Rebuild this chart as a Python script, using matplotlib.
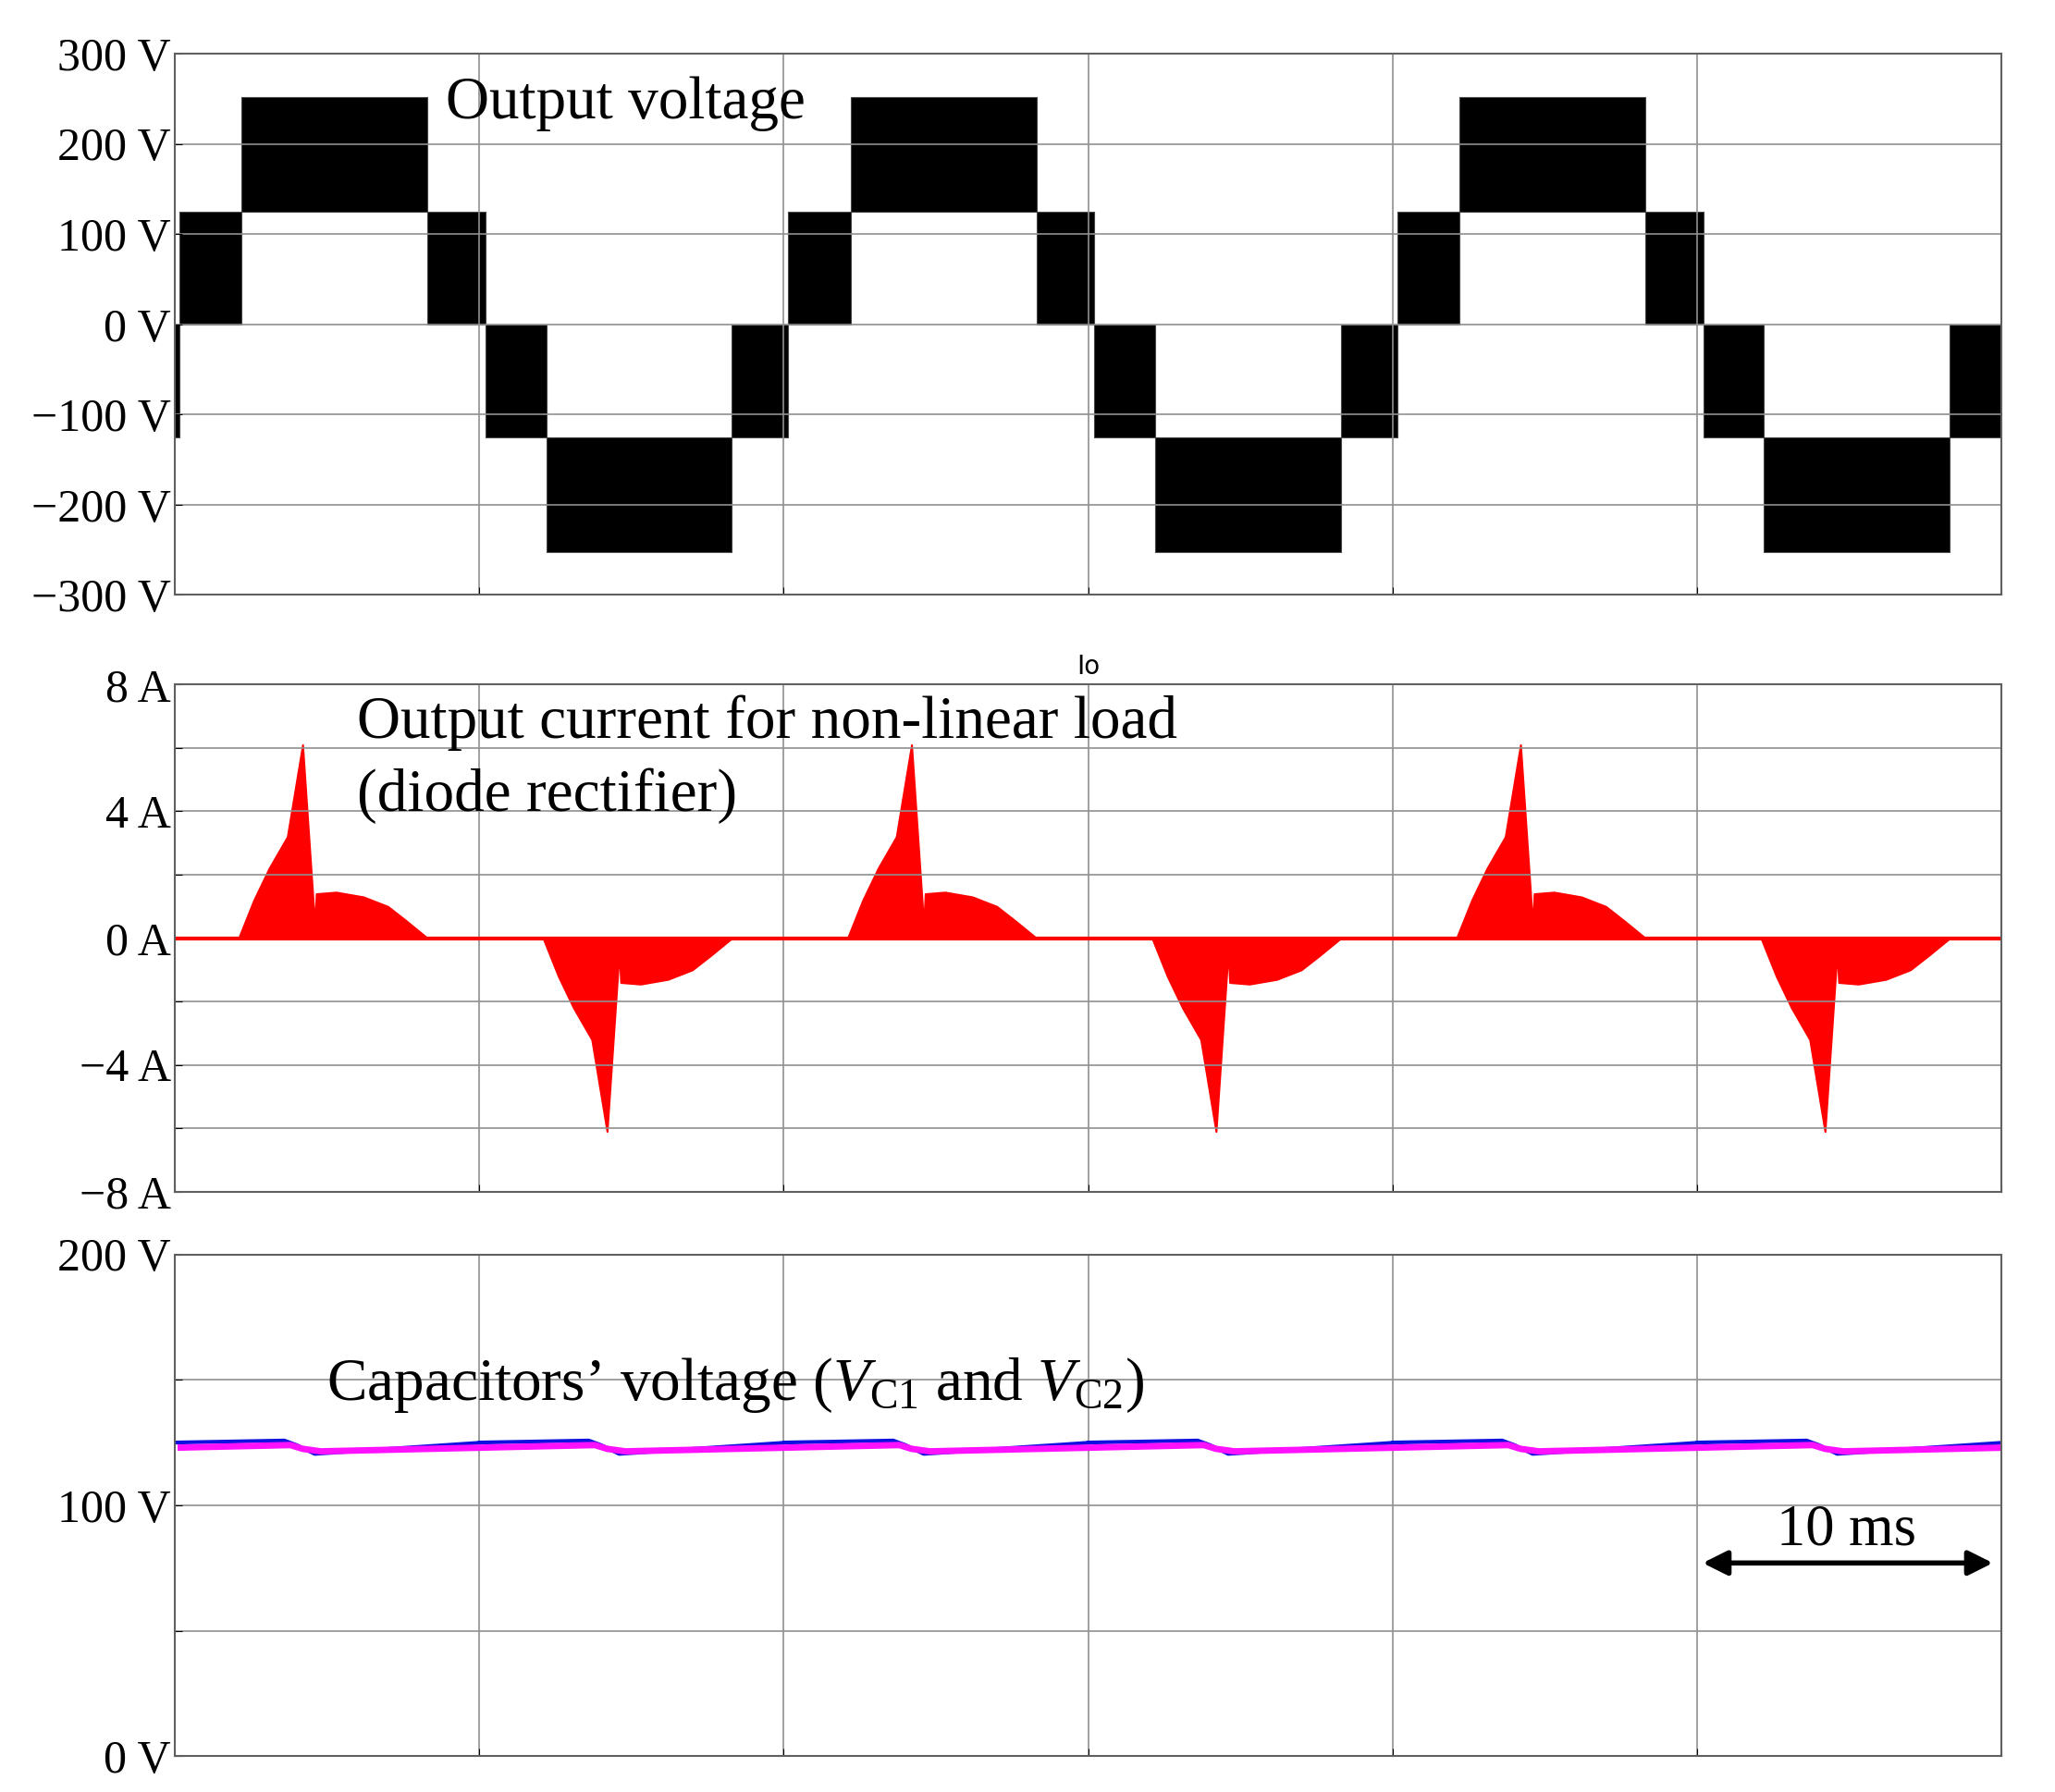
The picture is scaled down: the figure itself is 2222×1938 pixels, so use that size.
import numpy as np
import matplotlib
matplotlib.use("Agg")
import matplotlib.pyplot as plt

plt.rcParams['font.family'] = ['Liberation Serif', 'DejaVu Serif']
plt.rcParams['mathtext.fontset'] = 'custom'
plt.rcParams['mathtext.rm'] = 'Liberation Serif'
plt.rcParams['mathtext.it'] = 'Liberation Serif:italic'

# ---- data ----
period_ms = 20.0
n_periods = 3
v_offset = 0.15
# one period of the 5-level output voltage: segment edges (ms) and band low/high (V)
v_edges = [0.0, 2.05, 8.15, 10.05, 12.05, 18.15, 20.0]
v_low = [0, 125, 0, -125, -252, -125]
v_high = [125, 252, 125, 0, -125, 0]

# positive current pulse envelope in one half period (ms, A)
i_t = [0.0, 2.1, 2.6, 3.1, 3.7, 4.2, 4.6, 4.65, 5.3, 6.2, 7.0, 7.6, 8.3, 10.0]
i_env = [0, 0, 1.2, 2.2, 3.2, 6.1, 0.4, 1.4, 1.45, 1.3, 1.0, 0.55, 0, 0]

# capacitor voltages over one 10 ms ripple cycle (ms, V)
c_t = [0.0, 3.6, 4.0, 4.6, 10.0]
vc1 = [125.0, 125.8, 124.0, 120.5, 124.9]
vc2 = [123.0, 124.0, 122.5, 121.5, 123.0]

fig = plt.figure(figsize=(22.22, 19.38), dpi=100)
L, R = 0.085, 0.974
ax1 = fig.add_axes([L, 0.668, R - L, 0.302])
ax2 = fig.add_axes([L, 0.335, R - L, 0.283])
ax3 = fig.add_axes([L, 0.02, R - L, 0.28])

T = n_periods * period_ms
for ax in (ax1, ax2, ax3):
    ax.set_xlim(0, T)
    ax.set_xticks(np.arange(0, T + 0.1, 10))
    ax.set_xticklabels([])
    ax.grid(True, color='#909090', lw=1.2)
    ax.tick_params(direction='in', length=6, labelsize=36, pad=3)
    for s in ax.spines.values():
        s.set_color('#606060'); s.set_linewidth(1.5)

# voltage
for p in range(-1, n_periods + 1):
    base = p * period_ms + v_offset
    for k in range(len(v_low)):
        a, b = base + v_edges[k], base + v_edges[k + 1]
        ax1.fill_between([a, b], [v_low[k]] * 2, [v_high[k]] * 2,
                         color='black', lw=0.8, edgecolor='#444444')
ax1.set_ylim(-300, 300)
ax1.set_yticks(np.arange(-300, 301, 100))
ax1.set_yticklabels([f"{v} V".replace('-', '\u2212') for v in range(-300, 301, 100)])
ax1.text(8.9, 245, "Output voltage", fontsize=47, va='center', ha='left')

# current
t_arr = np.array(i_t); e_arr = np.array(i_env)
for p in range(n_periods):
    base = p * period_ms
    ax2.fill_between(base + t_arr, 0, e_arr, color='red', lw=1.5)
    ax2.fill_between(base + 10 + t_arr, 0, -e_arr, color='red', lw=1.5)
ax2.plot([0, T], [0, 0], color='red', lw=3)
ax2.set_ylim(-8, 8)
ax2.set_yticks(np.arange(-8, 9, 2))
ax2.set_yticklabels([(f"{v} A".replace('-', '\u2212') if v % 4 == 0 else "") for v in range(-8, 9, 2)])
ax2.set_title("Io", fontsize=20, family='DejaVu Sans', pad=8)
ax2.text(6.0, 6.8, "Output current for non-linear load", fontsize=47, va='center')
ax2.text(6.0, 4.5, "(diode rectifier)", fontsize=47, va='center')

# capacitors
ct = np.array(c_t)
tt1, yy1, tt2, yy2 = [], [], [], []
for k in range(6):
    tt1 += list(k * 10 + ct); yy1 += vc1
    tt2 += list(k * 10 + ct + 0.2); yy2 += vc2
ax3.plot(tt1, yy1, color='#1010e0', lw=3)
ax3.plot(tt2, yy2, color='#ff10ff', lw=5)
ax3.set_ylim(0, 200)
ax3.set_yticks(np.arange(0, 201, 50))
ax3.set_yticklabels([(f"{v} V" if v % 100 == 0 else "") for v in range(0, 201, 50)])
ax3.text(5.0, 148, r"Capacitors’ voltage ($V_{\rm C1}$ and $V_{\rm C2}$)", fontsize=47, va='center')
ax3.annotate("", xy=(59.8, 77), xytext=(50.1, 77),
             arrowprops=dict(arrowstyle='<|-|>', color='black', lw=4, mutation_scale=40))
ax3.text(54.9, 90, "10 ms", fontsize=45, ha='center', va='center')

fig.savefig("out.png", dpi=100)
